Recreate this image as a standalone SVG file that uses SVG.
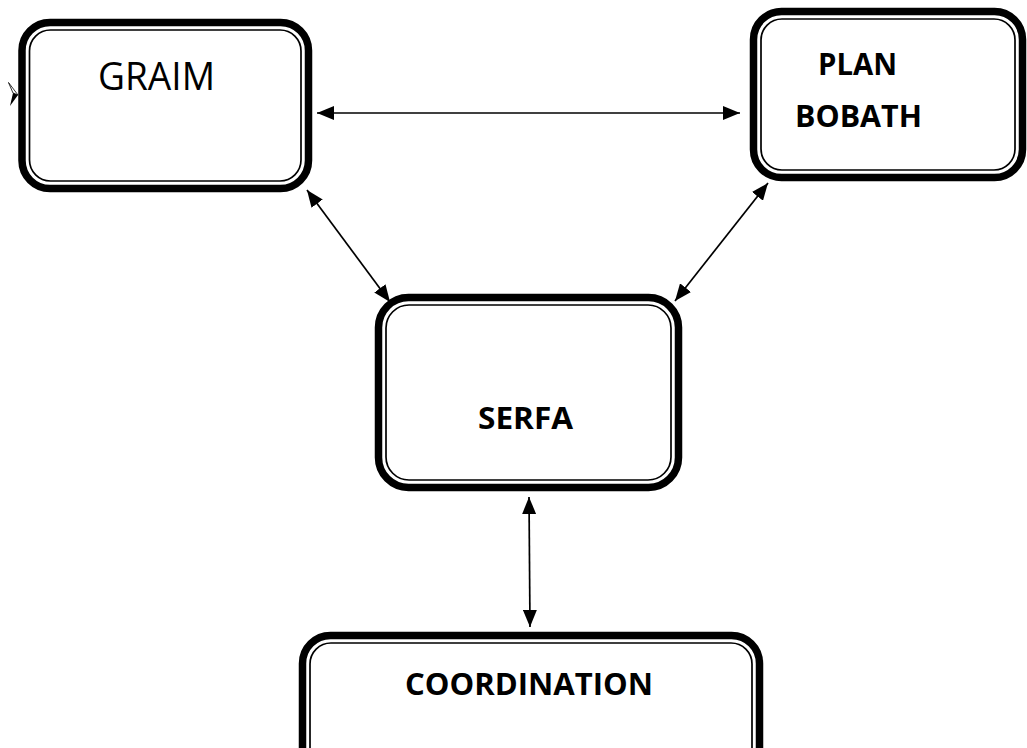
<svg xmlns="http://www.w3.org/2000/svg" width="1027" height="748" viewBox="0 0 1027 748">
<defs>
<style>
.outer{fill:#fff;stroke:#000;stroke-width:7.5}
.inner{fill:none;stroke:#000;stroke-width:1.7}
.lbl{font-family:"Open Sans","Liberation Sans",sans-serif;fill:#000}
.b{font-weight:bold}
.conn{stroke:#000;stroke-width:1.7;fill:none}
</style>
<marker id="ah" viewBox="0 0 17 14" refX="17" refY="7" markerWidth="17" markerHeight="14" markerUnits="userSpaceOnUse" orient="auto-start-reverse">
<path d="M0,0 L17,7 L0,14 Z" fill="#000"/>
</marker>
</defs>
<rect width="1027" height="748" fill="#fff"/>
<g id="stray">
<path d="M8.5,82.5 L18,95 L13,93 Z" fill="#fff" stroke="#000" stroke-width="0.8"/>
<path d="M18,95 L10,106 L13,93 Z" fill="#000"/>
</g>
<g id="graim">
<rect class="outer" x="22" y="22.5" width="286.5" height="166" rx="28"/>
<rect class="inner" x="29.5" y="30" width="271.5" height="151" rx="21"/>
<text class="lbl" x="98" y="90" font-size="38" textLength="117" lengthAdjust="spacingAndGlyphs">GRAIM</text>
</g>
<g id="plan">
<rect class="outer" x="753.5" y="11.5" width="269" height="166" rx="28"/>
<rect class="inner" x="761" y="19" width="254" height="151" rx="21"/>
<text class="lbl b" x="818" y="75" font-size="30.5" textLength="79" lengthAdjust="spacingAndGlyphs">PLAN</text>
<text class="lbl b" x="795" y="127" font-size="30.5" textLength="127" lengthAdjust="spacingAndGlyphs">BOBATH</text>
</g>
<g id="serfa">
<rect class="outer" x="378.5" y="297.5" width="300" height="190" rx="30"/>
<rect class="inner" x="386" y="305" width="285" height="175" rx="23"/>
<text class="lbl b" x="478" y="429" font-size="30.5" textLength="95" lengthAdjust="spacingAndGlyphs">SERFA</text>
</g>
<g id="coordination">
<rect class="outer" x="302.5" y="635.5" width="457" height="160" rx="28"/>
<rect class="inner" x="310" y="643" width="442" height="145" rx="21"/>
<text class="lbl b" x="405" y="695" font-size="31" textLength="248" lengthAdjust="spacingAndGlyphs">COORDINATION</text>
</g>
<g id="connectors">
<line class="conn" x1="317" y1="113" x2="740" y2="113" marker-start="url(#ah)" marker-end="url(#ah)"/>
<line class="conn" x1="307" y1="190" x2="390" y2="302" marker-start="url(#ah)" marker-end="url(#ah)"/>
<line class="conn" x1="768" y1="183" x2="675" y2="301" marker-start="url(#ah)" marker-end="url(#ah)"/>
<line class="conn" x1="529" y1="497" x2="530" y2="627" marker-start="url(#ah)" marker-end="url(#ah)"/>
</g>
</svg>
